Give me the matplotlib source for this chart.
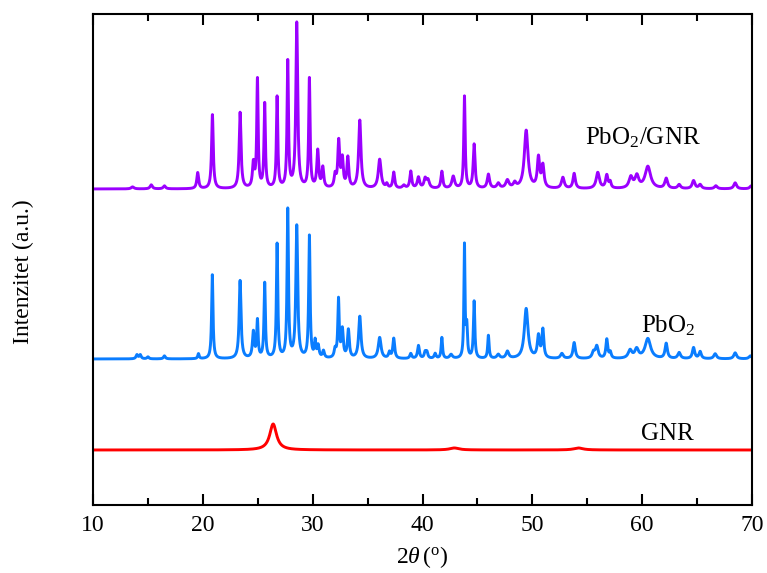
import numpy as np
import matplotlib.pyplot as plt

plt.rcParams['font.family'] = 'Liberation Serif'
plt.rcParams['mathtext.fontset'] = 'custom'
plt.rcParams['mathtext.rm'] = 'Liberation Serif'
plt.rcParams['mathtext.it'] = 'Liberation Serif:italic'

# Peak tables: position (2theta), height, FWHM
gnr_pos = [26.40, 42.9, 54.2]
gnr_h = [26, 2, 2]
gnr_w = [0.75, 1.0, 1.0]

pbo2_pos = [14.0, 14.3, 15.0, 16.5, 19.6, 20.86, 23.39, 24.6, 24.97, 25.63, 26.76,
            27.73, 28.55, 29.70, 30.22, 30.5, 30.98, 32.04, 32.35, 32.7, 33.25,
            34.29, 36.1, 36.99, 37.38, 38.93, 39.63, 40.24, 40.4, 41.15, 41.76,
            42.6, 43.82, 44.03, 44.7, 46.0, 46.9, 47.73, 49.44, 50.56, 50.96,
            52.69, 53.81, 55.57, 55.87, 56.78, 57.1, 58.9, 59.5, 60.52, 62.19,
            63.37, 64.68, 65.28, 66.65, 68.47, 69.85]
pbo2_h = [4, 4, 2, 3, 5, 84, 78, 26, 37, 75, 114, 148, 132, 122, 16, 12, 7, 8,
          58, 28, 28, 42, 21, 6, 20, 5, 13, 6, 6, 5, 21, 4, 112, 30, 57, 23, 4,
          7, 50, 22, 28, 5, 16, 6, 12, 19, 6, 8, 9, 20, 15, 6, 11, 7, 5, 6, 3]
pbo2_w = [0.2, 0.2, 0.2, 0.2, 0.15, 0.15, 0.2, 0.2, 0.15, 0.15, 0.15,
          0.15, 0.2, 0.15, 0.15, 0.2, 0.2, 0.2, 0.15, 0.2, 0.2,
          0.25, 0.3, 0.2, 0.2, 0.2, 0.2, 0.2, 0.2, 0.2, 0.15,
          0.3, 0.12, 0.15, 0.15, 0.15, 0.3, 0.3, 0.4, 0.25, 0.2,
          0.3, 0.25, 0.3, 0.3, 0.2, 0.2, 0.4, 0.4, 0.6, 0.25,
          0.3, 0.25, 0.25, 0.3, 0.3, 0.3]

comp_pos = [13.6, 15.3, 16.5, 19.53, 20.87, 23.39, 24.6, 24.97, 25.63, 26.76,
            27.73, 28.55, 29.70, 30.46, 30.92, 32.04, 32.37, 32.7, 33.2, 34.29,
            36.1, 36.75, 37.38, 38.3, 38.93, 39.63, 40.24, 40.5, 41.76, 42.8,
            43.82, 44.7, 46.0, 46.9, 47.73, 48.4, 49.44, 50.56, 50.96, 52.78,
            53.81, 55.96, 56.78, 57.09, 58.97, 59.52, 60.52, 62.19, 63.37,
            64.68, 65.28, 66.71, 68.47, 69.93]
comp_h = [2, 4, 3, 16, 74, 76, 24, 108, 84, 91, 126, 165, 109, 37, 20, 12, 46,
          28, 30, 68, 29, 4, 16, 3, 17, 11, 9, 8, 17, 12, 92, 44, 14, 5, 8, 5,
          58, 30, 22, 11, 15, 16, 13, 6, 11, 12, 22, 10, 4, 8, 4, 3, 6, 3]
comp_w = [0.3, 0.25, 0.25, 0.2, 0.18, 0.2, 0.2, 0.15, 0.15, 0.15,
          0.15, 0.2, 0.15, 0.2, 0.2, 0.2, 0.2, 0.2, 0.2, 0.25,
          0.3, 0.2, 0.2, 0.3, 0.2, 0.25, 0.25, 0.3, 0.2, 0.3,
          0.15, 0.2, 0.25, 0.3, 0.35, 0.3, 0.4, 0.25, 0.25, 0.3,
          0.25, 0.35, 0.25, 0.2, 0.4, 0.4, 0.6, 0.3, 0.3,
          0.3, 0.3, 0.3, 0.3, 0.3]

# vertical offsets of each pattern
gnr_base = 55
pbo2_base = 146
comp_base = 316

labels = ['GNR', r'PbO$_2$', r'PbO$_2$/GNR']
colors = ['#ff0000', '#0a7dff', '#9b00ff']


def pattern(x, pos, h, w):
    # sum of lorentzian peaks
    y = np.zeros_like(x)
    for p, a, fw in zip(pos, h, w):
        g = fw / 2.0
        y += a * g**2 / ((x - p)**2 + g**2)
    return y


tt = np.arange(10, 70.001, 0.01)

fig = plt.figure(figsize=(7.67, 5.73), dpi=100)
ax = fig.add_axes([0.1213, 0.1187, 0.8591, 0.8569])

ax.plot(tt, gnr_base + pattern(tt, gnr_pos, gnr_h, gnr_w), color=colors[0], lw=2.1)
ax.plot(tt, pbo2_base + pattern(tt, pbo2_pos, pbo2_h, pbo2_w), color=colors[1], lw=2.1)
ax.plot(tt, comp_base + pattern(tt, comp_pos, comp_h, comp_w), color=colors[2], lw=2.1)

ax.text(62.3, 71, labels[0], fontsize=18, ha='center', va='center')
ax.text(62.4, 179, labels[1], fontsize=18, ha='center', va='center')
ax.text(60.1, 367, labels[2], fontsize=18, ha='center', va='center')

ax.set_xlim(10, 70)
ax.set_ylim(0, 491)
ax.set_xticks(np.arange(10, 71, 10))
ax.set_xticks(np.arange(15, 70, 10), minor=True)
ax.set_yticks([])
ax.tick_params(axis='x', which='both', direction='in', top=True, labelsize=17, width=1.5, pad=7)
ax.tick_params(axis='x', which='major', length=8)
ax.tick_params(axis='x', which='minor', length=5)
for s in ax.spines.values():
    s.set_linewidth(1.5)

ax.set_xlabel(r'$2\theta\,(^{\mathrm{o}})$', fontsize=17, labelpad=6)
ax.set_ylabel('Intenzitet (a.u.)', fontsize=17)
ax.yaxis.set_label_coords(-0.09, 0.475)

fig.savefig('out.png', dpi=100)
